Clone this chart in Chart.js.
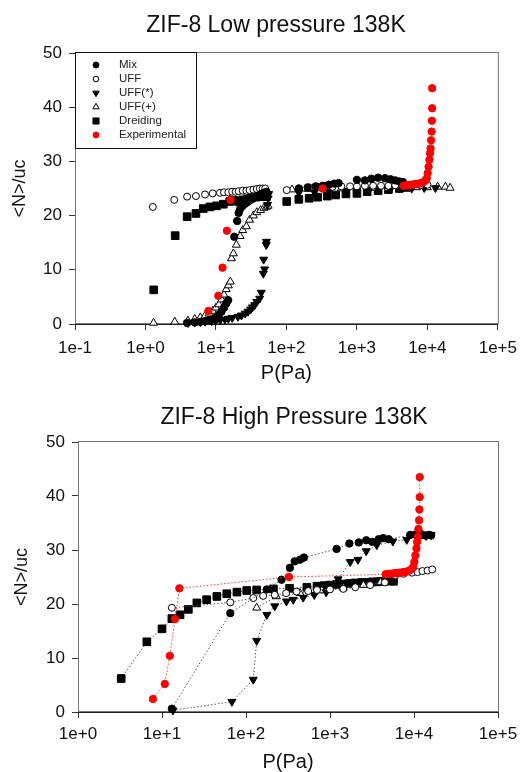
<!DOCTYPE html>
<html>
<head>
<meta charset="utf-8">
<script src="https://cdn.jsdelivr.net/npm/chart.js@4/dist/chart.umd.min.js"></script>
<style>
  body { margin: 0; background: #fff; }
  canvas { display: block; }
</style>
</head>
<body>
<canvas id="low-chart" width="525" height="386"></canvas>
<canvas id="high-chart" width="525" height="386"></canvas>
<script>
// Series names, in legend order
const seriesNames = ['Mix', 'UFF', 'UFF(*)', 'UFF(+)', 'Dreiding', 'Experimental'];

// Axis ticks
const lowXTicks = [0.1, 1, 10, 100, 1000, 10000, 100000];
const lowXLabels = ['1e-1', '1e+0', '1e+1', '1e+2', '1e+3', '1e+4', '1e+5'];
const highXTicks = [1, 10, 100, 1000, 10000, 100000];
const highXLabels = ['1e+0', '1e+1', '1e+2', '1e+3', '1e+4', '1e+5'];
const yTicks = [0, 10, 20, 30, 40, 50];

// Experimental isotherm (same in both panels)
const expP = [7.8, 10.8, 12.4, 14.3, 16.1, 325, 4600, 5000, 5400, 5800, 6200, 6600, 7000, 7400, 7800, 8200,
  8800, 9400, 9800, 10100, 10400, 10700, 10900, 11100, 11300, 11500, 11600, 11700, 11700];
const expN = [2.4, 5.2, 10.4, 17.2, 22.9, 25.0, 25.5, 25.6, 25.6, 25.7, 25.7, 25.8, 25.8, 25.9, 25.9, 26.0,
  26.2, 26.5, 26.9, 27.8, 29.0, 30.3, 31.5, 32.4, 33.9, 35.5, 37.5, 39.8, 43.5];

// Low pressure panel
const lowMixP = [3.9, 5, 6, 7, 8, 9, 10, 11, 12, 13, 14, 14.9, 18.2, 20, 21, 22, 24, 26, 28, 30, 33, 36, 40, 44, 48, 52,
  150, 200, 260, 330, 400, 480, 550, 1000, 1300, 1600, 2000, 2500, 3000, 3500, 4000, 4500];
const lowMixN = [0.2, 0.3, 0.4, 0.5, 0.7, 0.9, 1.2, 1.7, 2.3, 3.0, 3.8, 4.4, 16.1, 19.0, 20.5, 21.2, 21.8, 22.2, 22.5, 22.8,
  23.1, 23.4, 23.7, 24.0, 24.2, 24.4, 25.0, 25.2, 25.4, 25.5, 25.7, 25.9, 26.0, 26.6, 26.5, 26.8, 27.0, 26.9, 26.7, 26.5, 26.3, 26.2];
const lowUffP = [1.27, 2.56, 3.9, 5.2, 7, 9, 11.4, 13, 15, 17, 19, 21, 24, 27, 30, 34, 38, 42, 46, 50,
  101, 150, 210, 280, 350, 450, 600, 800, 1000, 1300, 1700, 2200, 2800, 3500, 4500, 6000, 8000, 10000];
const lowUffN = [21.6, 22.9, 23.5, 23.6, 23.9, 24.1, 24.2, 24.3, 24.3, 24.4, 24.4, 24.5, 24.6, 24.6, 24.7, 24.8, 24.9, 25.0, 25.0, 25.0,
  24.7, 25.0, 25.2, 25.3, 25.3, 25.3, 25.4, 25.4, 25.4, 25.5, 25.5, 25.5, 25.5, 25.6, 25.6, 25.6, 25.6, 25.7];
const lowUffStarP = [4, 5, 6, 7, 8.7, 10, 11.5, 13.4, 15, 17, 20.5, 23, 26, 28.5, 31, 33, 35.5, 38, 41.7, 44,
  47, 49, 47.5, 51.7, 52, 54, 55, 56, 150, 250, 400, 700, 1000, 1500, 2000, 3000, 4000, 6000, 9000, 13000];
const lowUffStarN = [0.2, 0.3, 0.35, 0.45, 0.55, 0.65, 0.75, 0.86, 1.0, 1.15, 1.35, 1.6, 1.95, 2.3, 2.7, 3.1, 3.5, 4.1, 4.7, 5.8,
  9.3, 10.1, 11.9, 14.6, 15.2, 22.0, 23.2, 24.0, 24.2, 24.3, 24.5, 24.6, 24.7, 24.8, 24.8, 24.9, 25.0, 25.0, 25.1, 25.1];
const lowUffPlusP = [1.3, 2.6, 4, 5, 6, 7, 8, 9, 10, 11, 12, 13, 14, 15, 16, 16.6, 17.7, 19.5, 22, 24,
  27, 30, 34, 38, 43, 48, 52, 55, 120, 200, 350, 600, 1000, 1700, 2800, 4500, 7000, 10000, 14000, 18000, 21000];
const lowUffPlusN = [0.2, 0.4, 0.6, 0.9, 1.2, 1.5, 1.9, 2.4, 3.0, 3.6, 4.5, 5.4, 6.4, 7.1, 7.8, 12.1, 13.0, 14.6, 16.2, 17.3,
  18.0, 19.2, 20.0, 20.6, 21.0, 21.4, 21.6, 21.8, 24.8, 24.9, 25.0, 25.0, 25.1, 25.1, 25.1, 25.2, 25.2, 25.2, 25.3, 25.3, 25.1];
const lowDreidingP = [1.31, 2.64, 3.9, 5.2, 6.6, 8.2, 10.2, 12.7, 15.7, 18, 21, 24, 28, 32, 37, 42, 47, 52,
  101, 150, 210, 277, 380, 500, 700, 1000, 1400, 2000, 2800, 4000, 5000];
const lowDreidingN = [6.3, 16.3, 19.8, 20.4, 21.3, 21.6, 21.8, 22.1, 22.6, 22.8, 22.6, 22.9, 23.1, 23.3, 23.4, 23.5, 23.6, 23.5,
  22.6, 23.0, 23.2, 23.4, 23.6, 23.8, 24.0, 24.1, 24.4, 24.6, 24.8, 25.0, 25.2];

// High pressure panel
const highMixP = [13.1, 65, 177, 265, 333, 380, 440, 490, 1200, 1700, 2200, 2700, 3200, 3800, 4300, 5000,
  9000, 10500, 12000, 13500, 15000, 16000];
const highMixN = [0.6, 18.3, 22.7, 24.5, 26.7, 27.9, 28.2, 28.6, 30.2, 31.2, 31.4, 31.8, 31.5, 32.0, 32.2, 32.0,
  32.8, 32.9, 33.0, 32.7, 32.8, 32.7];
const highUffP = [13.1, 65, 122, 160, 220, 300, 400, 550, 700, 1000, 1440, 2000, 3000, 4500, 6000, 7500,
  9500, 11000, 12600, 14500, 16500];
const highUffN = [19.3, 20.3, 21.1, 21.5, 21.7, 22.0, 22.3, 22.4, 22.6, 22.7, 22.8, 23.1, 23.5, 24.0, 25.3, 25.6,
  25.8, 25.9, 26.1, 26.2, 26.4];
const highUffStarP = [13.5, 68, 122, 134, 177, 220, 303, 365, 480, 650, 900, 1250, 1740, 2150, 2700, 3600,
  5600, 8200, 12000, 14000, 16000];
const highUffStarN = [0.3, 1.9, 6.0, 13.2, 18.0, 19.6, 20.5, 20.8, 21.2, 21.7, 22.2, 24.6, 27.8, 28.2, 29.8, 30.9,
  31.6, 31.9, 32.8, 32.6, 32.8];
const highUffPlusP = [134, 230, 440, 800, 1440, 2500, 4000];
const highUffPlusN = [19.3, 21.4, 22.0, 22.5, 23.0, 23.5, 24.0];
const highDreidingP = [3.27, 6.6, 10, 13.1, 16.4, 20.6, 26, 34, 45, 59, 78, 102, 134, 212, 330, 530, 700, 850,
  1000, 1200, 1400, 1700, 2000, 2400, 2800, 3200, 3600, 4000, 4500, 5000, 5700];
const highDreidingN = [6.2, 13.0, 15.4, 17.3, 18.0, 19.0, 20.2, 20.8, 21.4, 21.9, 22.2, 22.5, 22.6, 22.8, 22.9, 23.1, 23.3, 23.4,
  23.5, 23.6, 23.7, 23.8, 23.9, 24.0, 24.0, 24.1, 24.1, 24.2, 24.2, 24.3, 24.2];

// Marker look per series
const markerStyles = {
  'Mix':          { style: 'circle',   rotation: 0,   radius: 3.7, fill: '#000', stroke: '#000', line: '#555' },
  'UFF':          { style: 'circle',   rotation: 0,   radius: 3.5, fill: '#fff', stroke: '#000', line: '#555' },
  'UFF(*)':       { style: 'triangle', rotation: 180, radius: 4.6, fill: '#000', stroke: '#000', line: '#555' },
  'UFF(+)':       { style: 'triangle', rotation: 0,   radius: 4.6, fill: '#fff', stroke: '#000', line: '#555' },
  'Dreiding':     { style: 'rect',     rotation: 0,   radius: 5.4, fill: '#000', stroke: '#000', line: '#555' },
  'Experimental': { style: 'circle',   rotation: 0,   radius: 3.7, fill: '#f00', stroke: '#f00', line: '#f33' },
};

Chart.defaults.font.family = '"Liberation Sans", Arial, sans-serif';
Chart.defaults.color = '#111';

const makeDatasets = (sets, withLines) => seriesNames.map((name, i) => {
  const m = markerStyles[name];
  const [p, n] = sets[i];
  return {
    label: name,
    data: p.map((v, k) => ({ x: v, y: n[k] })),
    pointStyle: m.style,
    pointRotation: m.rotation,
    pointRadius: m.radius,
    pointHoverRadius: m.radius,
    pointBackgroundColor: m.fill,
    pointBorderColor: m.stroke,
    pointBorderWidth: 1,
    showLine: withLines,
    borderColor: m.line,
    borderWidth: 1,
    borderDash: [1.5, 2],
    clip: 8,
    order: name === 'Experimental' ? 0 : 1,
  };
});

// box round the plot area
const plotFrame = {
  id: 'plotFrame',
  beforeDatasetsDraw(chart) {
    const { ctx, chartArea: a } = chart;
    ctx.save();
    ctx.strokeStyle = '#777';
    ctx.lineWidth = 1;
    ctx.strokeRect(a.left + 0.5, a.top - 0.5, a.width, a.height);
    ctx.restore();
  },
};

// title drawn at a chosen centre
const plotTitle = {
  id: 'plotTitle',
  afterDraw(chart, args, opts) {
    const { ctx } = chart;
    ctx.save();
    ctx.font = '23px "Liberation Sans", Arial, sans-serif';
    ctx.fillStyle = '#111';
    ctx.textAlign = 'center';
    ctx.textBaseline = 'middle';
    ctx.fillText(opts.text, opts.x, opts.y);
    ctx.restore();
  },
};

// legend box inside the upper-left corner
const insideLegend = {
  id: 'insideLegend',
  afterDatasetsDraw(chart, args, opts) {
    if (!opts.show) return;
    const { ctx, chartArea } = chart;
    const x0 = chartArea.left, y0 = chartArea.top;
    ctx.save();
    ctx.fillStyle = '#fff';
    ctx.fillRect(x0, y0, 121, 96);
    ctx.strokeStyle = '#111';
    ctx.lineWidth = 1;
    ctx.strokeRect(x0 + 0.5, y0 - 0.5, 121, 96);
    ctx.font = '11.5px "Liberation Sans", Arial, sans-serif';
    ctx.textBaseline = 'middle';
    ctx.textAlign = 'left';
    chart.data.datasets.forEach((ds, i) => {
      const y = y0 + 12 + i * 14;
      ctx.fillStyle = ds.pointBackgroundColor;
      ctx.strokeStyle = ds.pointBorderColor;
      ctx.lineWidth = 1;
      Chart.helpers.drawPoint(ctx, {
        pointStyle: ds.pointStyle,
        radius: ds.pointRadius * 0.8,
        rotation: ds.pointRotation,
        borderWidth: 1,
      }, x0 + 21, y);
      ctx.fillStyle = '#222';
      ctx.fillText(ds.label, x0 + 44, y);
    });
    ctx.restore();
  },
};

const makeChart = (id, cfg) => new Chart(document.getElementById(id), {
  type: 'scatter',
  data: { datasets: makeDatasets(cfg.sets, cfg.lines) },
  options: {
    responsive: false,
    animation: false,
    events: [],
    devicePixelRatio: 1,
    layout: { padding: { left: 0, right: cfg.padRight, top: cfg.padTop, bottom: 0 } },
    plugins: {
      legend: { display: false },
      tooltip: { enabled: false },
      plotTitle: { text: cfg.title, x: cfg.titleX, y: cfg.titleY },
      insideLegend: { show: cfg.legend },
    },
    scales: {
      x: {
        type: 'logarithmic',
        min: cfg.xTicks[0],
        max: cfg.xTicks[cfg.xTicks.length - 1],
        afterBuildTicks: scale => { scale.ticks = cfg.xTicks.map(v => ({ value: v })); },
        afterFit: scale => { scale.height = cfg.xHeight; },
        ticks: {
          autoSkip: false,
          maxRotation: 0,
          padding: cfg.xTickPad,
          font: { size: 17 },
          color: '#111',
          callback: (v, i) => cfg.xLabels[i],
        },
        grid: { drawOnChartArea: false, drawTicks: true, tickLength: 6, color: '#333' },
        border: { display: true, color: '#222' },
        title: {
          display: true,
          text: 'P(Pa)',
          font: { size: 20, lineHeight: 1.2 },
          color: '#111',
          padding: { top: 0, bottom: cfg.xTitlePad },
        },
      },
      y: {
        min: 0,
        max: 50,
        afterBuildTicks: scale => { scale.ticks = yTicks.map(v => ({ value: v })); },
        afterFit: scale => { scale.width = cfg.yWidth; },
        ticks: { padding: 7, font: { size: 17 }, color: '#111' },
        grid: { drawOnChartArea: false, drawTicks: true, tickLength: 6, color: '#333' },
        border: { display: true, color: '#222' },
        title: {
          display: true,
          text: '<N>/uc',
          font: { size: 18, lineHeight: 1.2 },
          color: '#111',
          padding: { top: cfg.yTitlePad, bottom: 0 },
        },
      },
    },
  },
  plugins: [plotFrame, insideLegend, plotTitle],
});

makeChart('low-chart', {
  sets: [[lowMixP, lowMixN], [lowUffP, lowUffN], [lowUffStarP, lowUffStarN],
    [lowUffPlusP, lowUffPlusN], [lowDreidingP, lowDreidingN], [expP, expN]],
  lines: false,
  legend: true,
  title: 'ZIF-8 Low pressure 138K',
  titleX: 276, titleY: 26,
  xTicks: lowXTicks, xLabels: lowXLabels,
  padRight: 24, padTop: 53,
  yWidth: 75, xHeight: 62,
  xTickPad: 8, xTitlePad: 1, yTitlePad: 9,
});

makeChart('high-chart', {
  sets: [[highMixP, highMixN], [highUffP, highUffN], [highUffStarP, highUffStarN],
    [highUffPlusP, highUffPlusN], [highDreidingP, highDreidingN], [expP, expN]],
  lines: true,
  legend: false,
  title: 'ZIF-8 High Pressure 138K',
  titleX: 294, titleY: 32,
  xTicks: highXTicks, xLabels: highXLabels,
  padRight: 27, padTop: 56,
  yWidth: 78, xHeight: 60,
  xTickPad: 6, xTitlePad: -2, yTitlePad: 11,
});
</script>
</body>
</html>
